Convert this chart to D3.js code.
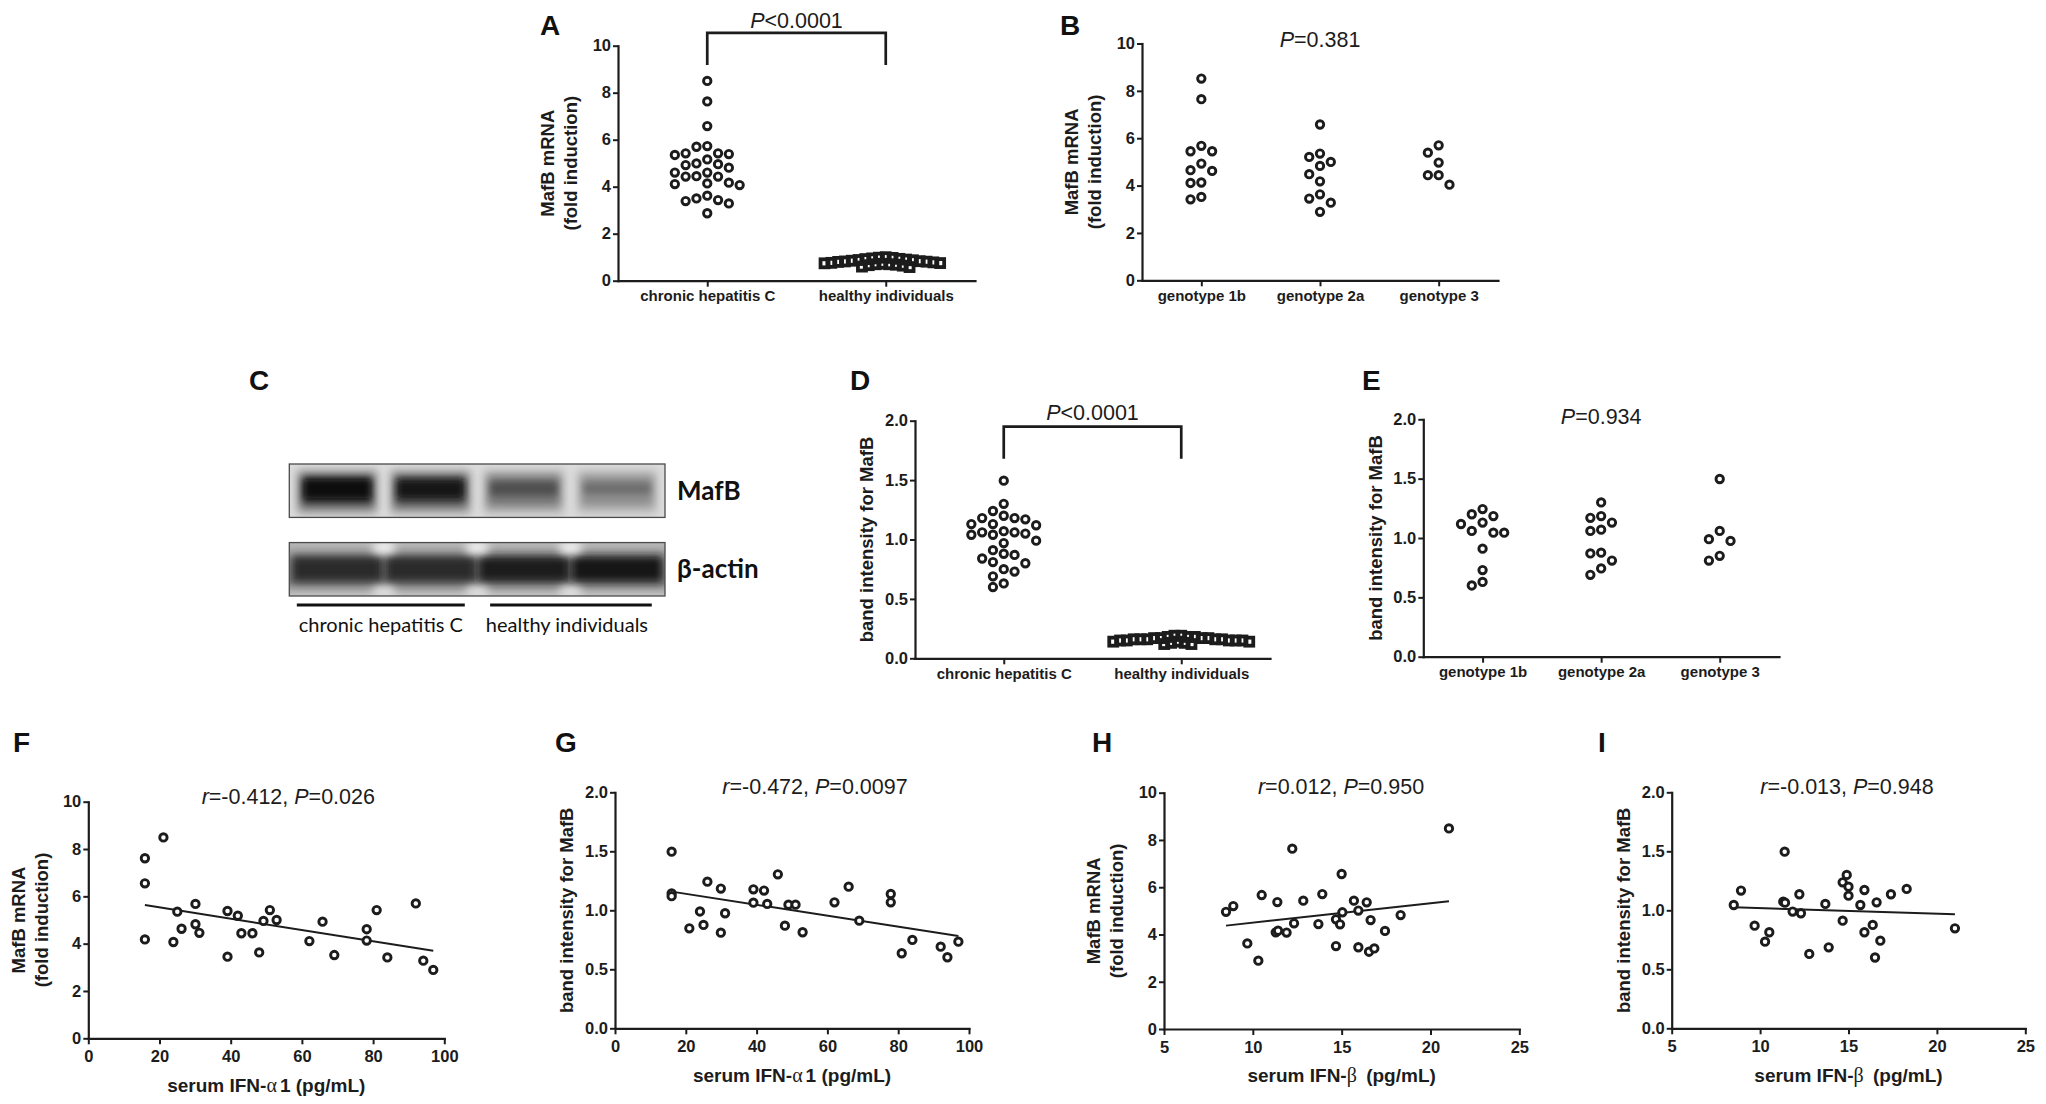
<!DOCTYPE html>
<html><head><meta charset="utf-8">
<script src="https://cdn.jsdelivr.net/npm/d3@7"></script>
<style>body{margin:0;background:#fff;}svg{display:block;}</style>
</head><body>
<svg id="fig" width="2046" height="1104"></svg>
<script>
// ---------------- DATA ----------------
const groupsHCV = ["chronic hepatitis C", "healthy individuals"];
const genotypes = ["genotype 1b", "genotype 2a", "genotype 3"];

// A: MafB mRNA (fold induction)
const mrnaHCV = [8.50,7.63,6.58,5.73,5.70,5.42,5.35,5.39,5.42,5.16,4.99,4.92,4.96,4.81,4.60,4.60,4.45,4.43,4.43,4.14,4.07,4.11,4.17,3.62,3.43,3.39,3.50,3.29,2.87];
const mrnaHealthy = [0.78,0.82,0.95,0.70,0.88,1.00,0.66,0.92,0.75,0.85,0.60,0.97,0.72,0.80,0.90,0.68,0.58,0.83,0.76,0.93,0.64,0.87,0.74,0.98,0.70,0.81];
// B: by genotype
const mrnaG1b = [8.52,7.65,5.68,5.45,5.45,4.93,4.62,4.65,4.13,4.11,3.42,3.52];
const mrnaG2a = [6.58,5.35,5.21,5.00,4.83,4.48,4.18,3.63,3.45,3.28,2.89];
const mrnaG3  = [5.70,5.39,4.97,4.44,4.44,4.04];
// D: band intensity for MafB
const bandHCV = [1.495,1.30,1.24,1.20,1.18,1.17,1.18,1.13,1.12,1.13,1.06,1.04,1.07,1.05,1.06,1.04,0.99,0.97,0.91,0.88,0.87,0.84,0.81,0.80,0.75,0.73,0.69,0.63,0.60];
const bandHealthy = [0.16,0.15,0.18,0.14,0.17,0.19,0.13,0.16,0.15,0.17,0.12,0.18,0.14,0.16,0.15,0.17,0.13,0.16,0.19,0.14,0.15,0.17,0.12,0.16,0.18,0.15];
// E: by genotype
const bandG1b = [1.244,1.185,1.20,1.118,1.13,1.045,1.045,1.06,0.91,0.73,0.60,0.63];
const bandG2a = [1.30,1.185,1.13,1.17,1.06,1.07,0.87,0.876,0.81,0.744,0.69];
const bandG3  = [1.497,1.06,0.99,0.975,0.85,0.81];
// F, G: serum IFN-alpha1
const ifnA_F = [15.9,15.9,15.9,21.1,23.9,25.0,26.2,30.1,30.1,31.2,39.1,39.1,42.0,43.0,46.1,48.0,49.2,51.0,52.9,62.1,65.8,69.1,78.2,78.2,81.0,84.0,92.0,94.1,96.9];
const mrna_F = [7.61,6.55,4.18,8.49,4.07,5.35,4.63,5.68,4.82,4.46,5.38,3.45,5.18,4.44,4.44,3.63,4.96,5.42,5.00,4.11,4.93,3.52,4.61,4.13,5.42,3.42,5.70,3.28,2.89];
const ifnA_G = [16.0,16.0,16.0,21.0,24.0,25.0,26.1,29.9,29.9,31.1,39.1,39.1,42.1,43.0,46.0,48.0,49.0,51.0,53.0,62.0,66.0,69.0,77.9,77.9,81.0,84.0,92.0,93.9,97.0];
const band_G = [1.497,1.144,1.12,0.847,0.99,0.876,1.243,1.184,0.81,0.975,1.178,1.065,1.167,1.054,1.305,0.87,1.048,1.048,0.814,1.068,1.20,0.912,1.138,1.068,0.636,0.749,0.692,0.602,0.734];
// H, I: serum IFN-beta
const ifnB_H = [8.49,8.90,9.69,10.31,10.50,11.29,11.42,11.38,11.90,12.22,12.32,12.84,13.69,13.91,14.68,14.68,14.91,15.00,15.04,15.69,15.94,15.94,16.41,16.54,16.63,16.84,17.44,18.32,21.04];
const mrna_H = [4.96,5.20,3.62,2.89,5.67,4.09,4.16,5.37,4.08,7.63,4.47,5.43,4.44,5.71,3.51,4.64,4.43,6.56,4.94,5.43,5.01,3.46,5.36,3.27,4.61,3.41,4.15,4.82,8.49];
const ifnB_I = [8.51,8.92,9.69,10.28,10.52,11.31,11.41,11.39,11.84,12.22,12.31,12.78,13.69,13.88,14.67,14.67,14.90,15.00,15.00,15.67,15.90,15.90,16.37,16.50,16.59,16.80,17.40,18.29,21.02];
const band_I = [1.045,1.167,0.87,0.734,0.814,1.073,1.065,1.497,0.989,1.136,0.975,0.63,1.054,0.686,0.912,1.237,1.30,1.20,1.124,1.045,1.172,0.814,0.876,0.60,1.068,0.743,1.136,1.181,0.847];

// tick labels
const mrnaTicks = [0,2,4,6,8,10];
const bandTicks = [0,0.5,1.0,1.5,2.0];
const ifnATicks = [0,20,40,60,80,100];
const ifnBTicks = [5,10,15,20,25];

// annotation texts
const statA = [["P",true],["<0.0001",false]];
const statB = [["P",true],["=0.381",false]];
const statD = [["P",true],["<0.0001",false]];
const statE = [["P",true],["=0.934",false]];
const statF = [["r",true],["=-0.412, ",false],["P",true],["=0.026",false]];
const statG = [["r",true],["=-0.472, ",false],["P",true],["=0.0097",false]];
const statH = [["r",true],["=0.012, ",false],["P",true],["=0.950",false]];
const statI = [["r",true],["=-0.013, ",false],["P",true],["=0.948",false]];

// western blot (C)
const blotLanes = ["HCV-1","HCV-2","HC-1","HC-2"];
const mafbLevel = [0.97, 0.90, 0.62, 0.48];
const actinLevel = [0.84, 0.84, 0.9, 0.92];
const blotRows = ["MafB", "β-actin"];

// ---------------- DRAWING ----------------
const svg = d3.select("#fig");
const FONT = "'Liberation Sans', Arial, Helvetica, sans-serif";
const INK = "#1c1c1c";

function styleAxis(g, fs) {
  g.select(".domain").attr("stroke", INK).attr("stroke-width", 2.2).attr("stroke-linecap","square");
  g.selectAll(".tick line").attr("stroke", INK).attr("stroke-width", 2);
  g.selectAll(".tick text").attr("fill", INK).attr("font-size", fs)
    .attr("font-weight", "bold").attr("font-family", FONT);
}

function swarm(vals, y, cx, step, minDist) {
  const pts = vals.map((v, i) => ({ v, y: y(v), i })).sort((a, b) => a.y - b.y);
  const placed = [];
  pts.forEach(p => {
    for (let k = 0; k < 400; k++) {
      const n = Math.ceil(k / 2);
      const off = k === 0 ? 0 : (k % 2 ? -n : n) * step;
      const x = cx + off;
      if (placed.every(q => Math.hypot(q.x - x, q.y - p.y) >= minDist)) {
        p.x = x; placed.push(p); break;
      }
    }
  });
  return pts;
}

function statText(g, parts, x, y, size) {
  const t = g.append("text").attr("x", x).attr("y", y).attr("text-anchor", "middle")
    .attr("font-family", FONT).attr("font-size", size).attr("fill", INK);
  parts.forEach(([s, it]) => t.append("tspan").text(s).attr("font-style", it ? "italic" : "normal"));
}

function letter(s, x, y) {
  svg.append("text").attr("x", x).attr("y", y).text(s)
    .attr("font-family", FONT).attr("font-size", 28).attr("font-weight", "bold").attr("fill", "#111");
}

function yTitle(g, lines, axisX, yc) {
  const offs = lines.length === 2 ? [-70, -47] : [-48];
  lines.forEach((s, i) => {
    g.append("text").attr("transform", `translate(${axisX + offs[i]},${yc}) rotate(-90)`)
      .attr("dy", "0.35em").attr("text-anchor", "middle").text(s)
      .attr("font-family", FONT).attr("font-size", 18.5).attr("font-weight", "bold").attr("fill", INK);
  });
}

function xTitle(g, greek, xc, y) {
  const t = g.append("text").attr("x", xc).attr("y", y).attr("text-anchor", "middle")
    .attr("font-family", FONT).attr("font-size", 19).attr("font-weight", "bold").attr("fill", INK);
  t.append("tspan").text("serum IFN-");
  t.append("tspan").text(greek).attr("font-weight", "normal").attr("font-family", "'Liberation Serif', 'DejaVu Serif', serif").attr("font-size", 20);
  if (greek === "α") t.append("tspan").text("1").attr("dx", 3);
  t.append("tspan").text(" (pg/mL)").attr("dx", greek === "β" ? 4 : 0);
}

function circles(g, pts) {
  g.selectAll(null).data(pts).join("circle")
    .attr("cx", d => d.x).attr("cy", d => d.y).attr("r", 3.7)
    .attr("fill", "#fff").attr("stroke", INK).attr("stroke-width", 2.9);
}

function squares(g, pts) {
  g.selectAll(null).data(pts).join("rect")
    .attr("x", d => d.x - 4).attr("y", d => d.y - 4).attr("width", 8).attr("height", 8)
    .attr("fill", "none").attr("stroke", INK).attr("stroke-width", 3.8);
}

// ----- category (dot) panels -----
function dotPanel(cfg) {
  const g = svg.append("g");
  const y = d3.scaleLinear().domain(cfg.yDomain).range([cfg.bottom, cfg.top]);
  const x = d3.scalePoint().domain(cfg.cats).range([cfg.left, cfg.right]).padding(0.5);
  const ya = g.append("g").attr("transform", `translate(${cfg.left},0)`)
    .call(d3.axisLeft(y).tickValues(cfg.yTicks).tickFormat(cfg.fmt).tickSize(5).tickSizeOuter(0).tickPadding(2));
  styleAxis(ya, 16.5);
  const xa = g.append("g").attr("transform", `translate(0,${cfg.bottom})`)
    .call(d3.axisBottom(x).tickSize(6).tickSizeOuter(0).tickPadding(4));
  styleAxis(xa, 15);
  cfg.series.forEach((vals, i) => {
    const cat = cfg.cats[i];
    const sq = cfg.square && cfg.square[i];
    const pts = sq ? swarm(vals, y, x(cat), 3.4, 6.6) : swarm(vals, y, x(cat), 10.8, 10.2);
    if (sq) squares(g, pts); else circles(g, pts);
  });
  yTitle(g, cfg.title, cfg.left, (cfg.top + cfg.bottom) / 2);
  if (cfg.bracket) {
    const [yt, yb] = cfg.bracket;
    const x0 = x(cfg.cats[0]), x1 = x(cfg.cats[1]);
    g.append("path").attr("d", `M${x0},${y(yb)}V${y(yt)}H${x1}V${y(yb)}`)
      .attr("fill", "none").attr("stroke", INK).attr("stroke-width", 2.7);
  }
  statText(g, cfg.stat, cfg.statX !== undefined ? cfg.statX : (cfg.left + cfg.right) / 2, cfg.statY, 21.5);
}

dotPanel({ left: 618, right: 975, top: 45.7, bottom: 280.7, yDomain: [0, 10], yTicks: mrnaTicks, fmt: d3.format("d"),
  cats: groupsHCV, series: [mrnaHCV, mrnaHealthy], square: [false, true], title: ["MafB mRNA", "(fold induction)"],
  bracket: [10.55, 9.18], stat: statA, statY: 28 });
dotPanel({ left: 1142, right: 1498, top: 43.5, bottom: 280.3, yDomain: [0, 10], yTicks: mrnaTicks, fmt: d3.format("d"),
  cats: genotypes, series: [mrnaG1b, mrnaG2a, mrnaG3], title: ["MafB mRNA", "(fold induction)"],
  stat: statB, statY: 46.5 });
dotPanel({ left: 915, right: 1270, top: 420.7, bottom: 658.3, yDomain: [0, 2], yTicks: bandTicks, fmt: d3.format(".1f"),
  cats: groupsHCV, series: [bandHCV, bandHealthy], square: [false, true], title: ["band intensity for MafB"],
  bracket: [1.95, 1.68], stat: statD, statY: 419.5 });
dotPanel({ left: 1423.3, right: 1779, top: 419.3, bottom: 656.7, yDomain: [0, 2], yTicks: bandTicks, fmt: d3.format(".1f"),
  cats: genotypes, series: [bandG1b, bandG2a, bandG3], title: ["band intensity for MafB"],
  stat: statE, statY: 423.5 });

// ----- scatter panels -----
function scatterPanel(cfg) {
  const g = svg.append("g");
  const y = d3.scaleLinear().domain(cfg.yDomain).range([cfg.bottom, cfg.top]);
  const x = d3.scaleLinear().domain(cfg.xDomain).range([cfg.left, cfg.right]);
  const ya = g.append("g").attr("transform", `translate(${cfg.left},0)`)
    .call(d3.axisLeft(y).tickValues(cfg.yTicks).tickFormat(cfg.fmt).tickSize(5).tickSizeOuter(0).tickPadding(2));
  styleAxis(ya, 16.5);
  const xa = g.append("g").attr("transform", `translate(0,${cfg.bottom})`)
    .call(d3.axisBottom(x).tickValues(cfg.xTicks).tickFormat(d3.format("d")).tickSize(6).tickSizeOuter(0).tickPadding(6));
  styleAxis(xa, 16.5);
  // regression line (least squares from the data)
  const mx = d3.mean(cfg.xs), my = d3.mean(cfg.ys);
  const sxy = d3.sum(cfg.xs, (v, i) => (v - mx) * (cfg.ys[i] - my));
  const sxx = d3.sum(cfg.xs, v => (v - mx) * (v - mx));
  const b = sxy / sxx, a = my - b * mx;
  const [x0, x1] = d3.extent(cfg.xs);
  g.append("line").attr("x1", x(x0)).attr("x2", x(x1)).attr("y1", y(a + b * x0)).attr("y2", y(a + b * x1))
    .attr("stroke", INK).attr("stroke-width", 2);
  const pts = cfg.xs.map((v, i) => ({ x: x(v), y: y(cfg.ys[i]) }));
  circles(g, pts);
  yTitle(g, cfg.title, cfg.left, (cfg.top + cfg.bottom) / 2);
  xTitle(g, cfg.greek, (cfg.left + cfg.right) / 2, cfg.bottom + 53.4);
  statText(g, cfg.stat, cfg.statX, cfg.statY, 21.5);
}

scatterPanel({ left: 88.3, right: 444.3, top: 801.7, bottom: 1038.3, xDomain: [0, 100], yDomain: [0, 10],
  xTicks: ifnATicks, yTicks: mrnaTicks, fmt: d3.format("d"), xs: ifnA_F, ys: mrna_F,
  title: ["MafB mRNA", "(fold induction)"], greek: "α", stat: statF, statX: 288.3, statY: 804 });
scatterPanel({ left: 615, right: 969, top: 792.3, bottom: 1028.3, xDomain: [0, 100], yDomain: [0, 2],
  xTicks: ifnATicks, yTicks: bandTicks, fmt: d3.format(".1f"), xs: ifnA_G, ys: band_G,
  title: ["band intensity for MafB"], greek: "α", stat: statG, statX: 815, statY: 794 });
scatterPanel({ left: 1164, right: 1519.3, top: 792.7, bottom: 1029, xDomain: [5, 25], yDomain: [0, 10],
  xTicks: ifnBTicks, yTicks: mrnaTicks, fmt: d3.format("d"), xs: ifnB_H, ys: mrna_H,
  title: ["MafB mRNA", "(fold induction)"], greek: "β", stat: statH, statX: 1341, statY: 794 });
scatterPanel({ left: 1671.7, right: 2025.3, top: 792.3, bottom: 1028.3, xDomain: [5, 25], yDomain: [0, 2],
  xTicks: ifnBTicks, yTicks: bandTicks, fmt: d3.format(".1f"), xs: ifnB_I, ys: band_I,
  title: ["band intensity for MafB"], greek: "β", stat: statI, statX: 1847, statY: 794 });

// ----- C: western blot -----
(function blot() {
  const g = svg.append("g");
  const defs = svg.append("defs");
  [["blur4", 4], ["blur3", 3], ["blur2", 2.2]].forEach(([id, s]) =>
    defs.append("filter").attr("id", id).attr("x", "-40%").attr("y", "-80%").attr("width", "180%").attr("height", "260%")
      .append("feGaussianBlur").attr("stdDeviation", s));
  const bx0 = 289.3, bx1 = 665, bw = bx1 - bx0;
  const row = d3.scaleBand().domain(blotRows).range([464, 596]).paddingInner(0.32);
  const lane = d3.scaleBand().domain(blotLanes).range([bx0, bx1]).paddingInner(0.207).paddingOuter(0.117);
  const shade = d3.interpolateRgb("#dcdcdc", "#070707");
  const gradBot = defs.append("linearGradient").attr("id", "gbot").attr("x1", 0).attr("x2", 0).attr("y1", 0).attr("y2", 1);
  [[0, "#b8b8b8"], [0.3, "#9c9c9c"], [0.75, "#8c8c8c"], [1, "#c2c2c2"]].forEach(([o, c]) =>
    gradBot.append("stop").attr("offset", o).attr("stop-color", c));

  blotRows.forEach((r, ri) => {
    const y0 = row(r), h = row.bandwidth();
    defs.append("clipPath").attr("id", "clip" + ri).append("rect").attr("x", bx0).attr("y", y0).attr("width", bw).attr("height", h);
    const cg = g.append("g").attr("clip-path", `url(#clip${ri})`);
    cg.append("rect").attr("x", bx0).attr("y", y0).attr("width", bw).attr("height", h)
      .attr("fill", ri === 0 ? "#dcdcdc" : "url(#gbot)");
    if (ri === 0) {
      blotLanes.forEach((l, i) => {
        const lv = mafbLevel[i];
        cg.append("rect").attr("x", lane(l) - 3).attr("y", y0 + 6).attr("width", lane.bandwidth() + 6).attr("height", 44)
          .attr("fill", shade(lv * 0.3)).attr("filter", "url(#blur4)");
        cg.append("rect").attr("x", lane(l) + 1).attr("y", y0 + 12).attr("width", lane.bandwidth() - 2).attr("height", 30)
          .attr("fill", shade(lv * 0.78)).attr("filter", "url(#blur4)");
        cg.append("rect").attr("x", lane(l) + 4).attr("y", y0 + 15 + (1 - lv) * 8).attr("width", lane.bandwidth() - 8).attr("height", 20 - (1 - lv) * 18)
          .attr("fill", shade(Math.min(1, lv + 0.04))).attr("filter", "url(#blur3)");
      });
    } else {
      blotLanes.forEach((l, i) => {
        const lv = actinLevel[i];
        cg.append("rect").attr("x", lane(l) - 9).attr("y", y0 + 13).attr("width", lane.bandwidth() + 18).attr("height", 27)
          .attr("fill", shade(lv)).attr("filter", "url(#blur4)");
      });
      const gaps = blotLanes.slice(0, 3).map((l, i) => (lane(l) + lane.bandwidth() + lane(blotLanes[i + 1])) / 2);
      gaps.forEach(gx => {
        cg.append("ellipse").attr("cx", gx).attr("cy", y0 + 5).attr("rx", 12).attr("ry", 7)
          .attr("fill", "#eeeeee").attr("filter", "url(#blur4)");
        cg.append("ellipse").attr("cx", gx).attr("cy", y0 + h - 4).attr("rx", 12).attr("ry", 6)
          .attr("fill", "#e2e2e2").attr("filter", "url(#blur4)");
      });
    }
    g.append("rect").attr("x", bx0).attr("y", y0).attr("width", bw).attr("height", h)
      .attr("fill", "none").attr("stroke", "#4a4a4a").attr("stroke-width", 1.3);
    g.append("text").attr("x", bx1 + 12).attr("y", y0 + h / 2 + 9).text(r)
      .attr("font-family", "Lato, 'Open Sans', sans-serif").attr("font-weight", "bold").attr("font-size", 26).attr("fill", "#111");
  });
  const grp = [[blotLanes[0], blotLanes[1]], [blotLanes[2], blotLanes[3]]];
  grp.forEach((pr, i) => {
    const xa = lane(pr[0]) + (i === 0 ? -3.4 : 3.3), xb = lane(pr[1]) + lane.bandwidth() - (i === 0 ? 2.7 : 2.3);
    g.append("line").attr("x1", xa).attr("x2", xb).attr("y1", 605).attr("y2", 605)
      .attr("stroke", "#111").attr("stroke-width", 2.8);
    g.append("text").attr("x", (xa + xb) / 2 - (i === 1 ? 4 : 0)).attr("y", 631.5).attr("text-anchor", "middle").text(groupsHCV[i])
      .attr("font-family", "Lato, 'Open Sans', sans-serif").attr("font-size", 20).attr("fill", "#111");
  });
})();

// panel letters
letter("A", 540, 35); letter("B", 1060, 35);
letter("C", 249, 390); letter("D", 850, 390); letter("E", 1362, 390);
letter("F", 13, 752); letter("G", 555, 752); letter("H", 1092, 752); letter("I", 1598, 752);
</script>
</body></html>
